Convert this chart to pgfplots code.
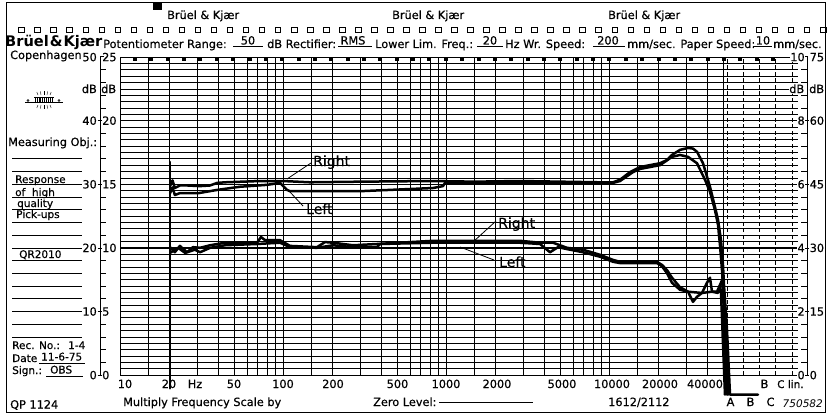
\documentclass[border=0pt]{standalone}
\usepackage{fontspec}
\setmainfont{DejaVu Sans}
\newfontfamily\med{DejaVu Sans}[FakeBold=0.5]
\usepackage{pgfplots}
\pgfplotsset{compat=1.18}
\newcommand\lab{\fontsize{11.3}{13}\selectfont\med}
\newcommand\fil{\fontsize{10.5}{12}\selectfont\med}
\newcommand\ann{\fontsize{14}{16}\selectfont\med}
\newcommand\bigbk{\fontsize{14.6}{17}\selectfont\bfseries}
\begin{document}
\begin{tikzpicture}[x=1pt,y=1pt,
  T/.style={inner sep=0pt, anchor=base west, font=\lab},
  trace/.style={black, line width=2.5pt, line join=round, line cap=round, mark=none}]
\useasboundingbox (0,0) rectangle (832,416);
\begin{axis}[
  at={(120pt,41pt)}, anchor=south west,
  width=678pt, height=318pt, scale only axis,
  xmode=log, xmin=10, xmax=144400, ymin=0, ymax=50,
  axis line style={draw=none},
  xtick={10,15,20,30,40,50,60,70,80,90,100,150,200,300,400,500,600,700,800,900,1000,1500,2000,3000,4000,5000,6000,7000,8000,9000,10000,15000,20000,30000,40000,50000},
  ytick={0,1,...,50},
  xticklabels={}, yticklabels={},
  major tick length=0pt, minor tick length=0pt,
  xmajorgrids, ymajorgrids,
  grid style={black, line width=0.6pt},
  extra x ticks={10,100,1000,10000},
  extra y ticks={0,10,20,30,40,50},
  extra x tick labels={}, extra y tick labels={},
  extra tick style={grid style={black, line width=0.85pt}, major tick length=0pt},
  clip=false,
]
% dashed lin. region lines
\foreach \f in {52950,66620,83820,105400,132700}{
  \edef\tmp{\noexpand\draw[black, line width=0.6pt, dash pattern=on 4pt off 2.5pt] (axis cs:\f,0) -- (axis cs:\f,50);}\tmp
}
% pen stroke at 20 Hz
\addplot[trace] coordinates {(20.3,-2.1) (20.3,33.5)};
% upper pair: Right
\addplot[trace] coordinates {(20.3,29.7) (21.0,30.6) (21.7,29.4) (23.3,29.8) (25.8,29.8) (31,29.7) (35.7,29.8) (39.4,30.2) (44.1,30.3) (72.3,30.5) (100,30.5) (146.4,30.3) (300,30.4) (832,30.5) (1500,30.4) (2844,30.5) (5000,30.4) (8807,30.3) (10580,30.3) (11680,30.7) (13450,31.9) (15500,32.7) (20560,33.3) (22690,33.8) (24350,34.6) (27270,35.4) (30530,35.7) (32760,35.6) (34670,35.1) (37730,33.3) (41650,29.6) (44710,26.4) (46640,24.4) (48650,21.2) (50040,17.3) (50750,14.2) (52950,7.1) (55250,-3.1) (82060,-3.1)};
% upper pair: Left
\addplot[trace] coordinates {(20.3,28.6) (21.0,29.5) (21.7,28.3) (23.3,28.6) (30.4,28.6) (39.4,29.1) (54.5,29.6) (79.8,29.9) (95.9,30.2) (105.8,29.1) (110.4,28.9) (296.8,28.9) (832,29.4) (958,29.7) (986,30.2) (2844,30.2) (5000,30.2) (8807,30.2) (10580,30.2) (11680,30.5) (14030,31.9) (15500,32.4) (20560,33.0) (24350,34.3) (27270,34.6) (30530,34.3) (34670,33.3) (38810,30.7) (41650,28.8) (44710,25.9) (46640,23.6) (47970,20.4) (49340,16.5) (51470,8.6) (53720,-3.1)};
% lower pair: Right
\addplot[trace] coordinates {(20.3,20.1) (21.7,19.3) (23.3,20.3) (25.8,19.3) (28.0,20.1) (31,20.0) (35.7,20.4) (44.1,20.8) (69.3,20.8) (73.3,21.7) (77.6,21.2) (95.9,21.2) (110.4,20.3) (161.7,20.1) (181,20.9) (202.7,20.8) (268.8,20.4) (377.4,20.6) (832,21.1) (2844,21.1) (3773,20.8) (4534,20.8) (5524,20.0) (6927,19.7) (8807,18.9) (10580,18.1) (11680,17.8) (19700,17.8) (21140,17.3) (22690,16.5) (24350,15.3) (27270,13.8) (30530,13.1) (37200,12.9) (39920,14.5) (41650,15.3) (42850,13.1) (45990,13.1) (49340,14.9) (50040,13.4) (52950,-3.1)};
% lower pair: Left
\addplot[trace] coordinates {(20.3,19.2) (22.7,20.0) (25.1,19.2) (28.8,19.7) (31,19.3) (35.7,20.0) (44.1,20.4) (69.3,20.6) (95.9,20.8) (110.4,20.1) (161.7,20.0) (202.7,20.4) (268.8,20.1) (377.4,20.1) (393.6,20.6) (832,20.8) (2844,20.8) (3773,20.6) (4345,19.3) (4864,20.1) (5524,19.8) (6927,19.3) (8807,18.6) (10580,17.8) (11680,17.6) (19700,17.6) (21140,17.1) (22690,16.0) (24350,14.5) (27270,13.4) (30530,13.1) (32760,11.5) (34670,12.3) (37200,12.9) (42850,13.1) (46640,12.9) (47970,14.0) (48650,13.0) (51470,-3.1)};
\end{axis}

% outer frame
\draw[line width=1pt] (6.5,4) rectangle (825.5,413.5);
\fill (153,406) rectangle (162,413);
% header
\node[T] at (167,397) {Brüel \& Kjær};
\node[T] at (392,397) {Brüel \& Kjær};
\node[T] at (608,397) {Brüel \& Kjær};
\foreach \k in {0,...,50}{\draw[line width=0.6pt] ({21.5+16.03*\k-2.8},383.2) rectangle ++(5.6,5.6);}
% second header row
\node[T, font=\bigbk] at (5,369) {Brüel\kern1pt\&\kern1ptKjær};
\node[T] at (103,368) {Potentiometer Range:};
\draw[line width=0.6pt] (233,369.5) -- (263,369.5);
\node[inner sep=0pt, anchor=base, font=\lab] at (248,371.5) {50};
\node[T] at (267,368) {dB Rectifier:};
\draw[line width=0.6pt] (338,369.5) -- (372,369.5);
\node[inner sep=0pt, anchor=base, font=\lab] at (353,371.5) {RMS};
\node[T] at (375,368) {Lower Lim. Freq.:};
\draw[line width=0.6pt] (477,369.5) -- (503,369.5);
\node[inner sep=0pt, anchor=base, font=\lab] at (490,371.5) {20};
\node[T] at (505,368) {Hz Wr. Speed:};
\draw[line width=0.6pt] (593,369.5) -- (625,369.5);
\node[inner sep=0pt, anchor=base, font=\lab] at (608,371.5) {200};
\node[T] at (627,368) {mm/sec. Paper Speed:};
\draw[line width=0.6pt] (753,369.5) -- (772,369.5);
\node[inner sep=0pt, anchor=base, font=\lab] at (763,371.5) {10};
\node[T] at (773,368) {mm/sec.};
% top marks and top border ends
\foreach \k in {0,...,39}{\fill ({135+16.36*\k-2},355.3) rectangle ++(4,3.7);}
\draw[line width=1pt] (798,359) -- (807,359) -- (807,41);
\draw[line width=1pt] (104,359) -- (100,359) -- (100,41);
% left scale
\foreach \d in {2,4,6,8,12,14,16,18,22,24,26,28,32,34,36,38,42,44,46,48}{\draw[line width=0.6pt] (100,{41+6.36*\d}) -- (106,{41+6.36*\d});}
\foreach \d in {0,10,20,30,40}{\draw[line width=0.6pt] (97.5,{41+6.36*\d}) -- (101.5,{41+6.36*\d});}
\foreach \a/\b/\d in {50/25/50,40/20/40,30/15/30,20/10/20,10/5/10,0/0/0}{
  \node[inner sep=0pt, anchor=base east, font=\lab] at (97,{41+6.36*\d-4.2}) {\a};
  \node[inner sep=0pt, anchor=base west, font=\lab] at (102,{41+6.36*\d-4.2}) {\b};
}
\node[inner sep=0pt, anchor=base east, font=\lab] at (97,{41+6.36*45-4.2}) {dB};
\node[inner sep=0pt, anchor=base west, font=\lab] at (101,{41+6.36*45-4.2}) {dB};
% right scale
\foreach \d in {2,4,6,8,12,14,16,18,22,24,26,28,32,34,36,38,42,44,46,48}{\draw[line width=0.6pt] (801,{41+6.36*\d}) -- (807,{41+6.36*\d});}
\foreach \d in {0,10,20,30,40}{\draw[line width=0.6pt] (805,{41+6.36*\d}) -- (809,{41+6.36*\d});}
\foreach \a/\b/\d in {10/75/50,8/60/40,6/45/30,4/30/20,2/15/10,0/0/0}{
  \node[inner sep=0.6pt, fill=white, anchor=base east, font=\lab] at (805.5,{41+6.36*\d-4.2}) {\a};
  \node[inner sep=0pt, anchor=base west, font=\lab] at (809.5,{41+6.36*\d-4.2}) {\b};
}
\node[inner sep=0.6pt, fill=white, anchor=base east, font=\lab] at (805,{41+6.36*45-4.2}) {dB};
\node[inner sep=0pt, anchor=base west, font=\lab] at (809,{41+6.36*45-4.2}) {dB};
% frequency labels
\foreach \x/\t in {125/10,169/20,234/50,283/100,333/200,397.5/500,446/1000,497/2000,562/5000,612/10000,660/20000,705/40000,195/Hz,764.5/B}{
  \node[inner sep=0pt, anchor=base, font=\lab] at (\x,28) {\t};
}
\node[T, font=\fil] at (777,28) {C lin.};
% left panel
\node[T] at (10,357) {Copenhagen};
\node[T] at (8,270) {Measuring Obj.:};
\foreach \d in {6,8,...,34}{\draw[line width=0.6pt] (12,{41+6.36*\d}) -- (82,{41+6.36*\d});}
\node[T, font=\fil] at (15,233) {Response};
\node[T, font=\fil] at (15,220) {of\ \ high};
\node[T, font=\fil] at (17,209) {quality};
\node[T, font=\fil] at (16,198) {Pick-ups};
\node[T, font=\fil] at (19,158) {QR2010};
\node[T, font=\fil] at (12,67) {Rec. No.:};
\node[T, font=\fil] at (68,67) {1-4};
\node[T, font=\fil] at (12,54) {Date};
\node[T, font=\fil] at (41,55.5) {11-6-75};
\draw[line width=0.6pt] (39,53) -- (85,53);
\node[T, font=\fil] at (12,42) {Sign.:};
\node[T, font=\fil] at (50,42.5) {OBS};
\draw[line width=0.6pt] (46,40) -- (83,40);
% logo
\draw[line width=0.8pt] (25,314) -- (63,314);
\foreach \i in {0,...,9}{\draw[line width=0.5pt] ({35+1.9*\i},314) -- ++(0,4.5);}
\draw[line width=0.5pt] (34,318.5) -- (53.5,318.5);
\foreach \dx/\dy in {-6/3,-3/3.5,0/4,3/3.5,6/3}{
  \draw[line width=0.4pt] ({44+\dx},321) -- ++({\dx*0.2},\dy);
  \draw[line width=0.4pt] ({44+\dx},311) -- ++({\dx*0.2},-\dy);
}
\draw[line width=0.4pt] (28,315.5) circle (1);
\draw[line width=0.4pt] (59,315.5) circle (1);
% annotations
\draw[line width=0.8pt] (287,237) -- (311,253);
\node[T, font=\ann] at (313,250) {Right};
\draw[line width=0.8pt] (290,224) -- (303,210);
\node[T, font=\ann] at (306,202) {Left};
\draw[line width=0.8pt] (473,174) -- (496,195);
\node[T, font=\ann] at (498,188) {Right};
\draw[line width=0.8pt] (460,169) -- (494,156);
\node[T, font=\ann] at (499,149) {Left};
% bottom row
\node[T] at (10,7.5) {QP 1124};
\node[T] at (123,10) {Multiply Frequency Scale by};
\node[T] at (373,10) {Zero Level:};
\draw[line width=0.6pt] (439,13.5) -- (533,13.5);
\node[T] at (608,10) {1612/2112};
\node[inner sep=0pt, anchor=base, font=\lab] at (730.5,10) {A};
\node[inner sep=0pt, anchor=base, font=\lab] at (750.5,10) {B};
\node[inner sep=0pt, anchor=base, font=\lab] at (770.5,10) {C};
\node[inner sep=0pt, anchor=base east, font=\fontsize{10.5}{12}\selectfont\itshape] at (823,9) {750582};
\end{tikzpicture}
\end{document}
